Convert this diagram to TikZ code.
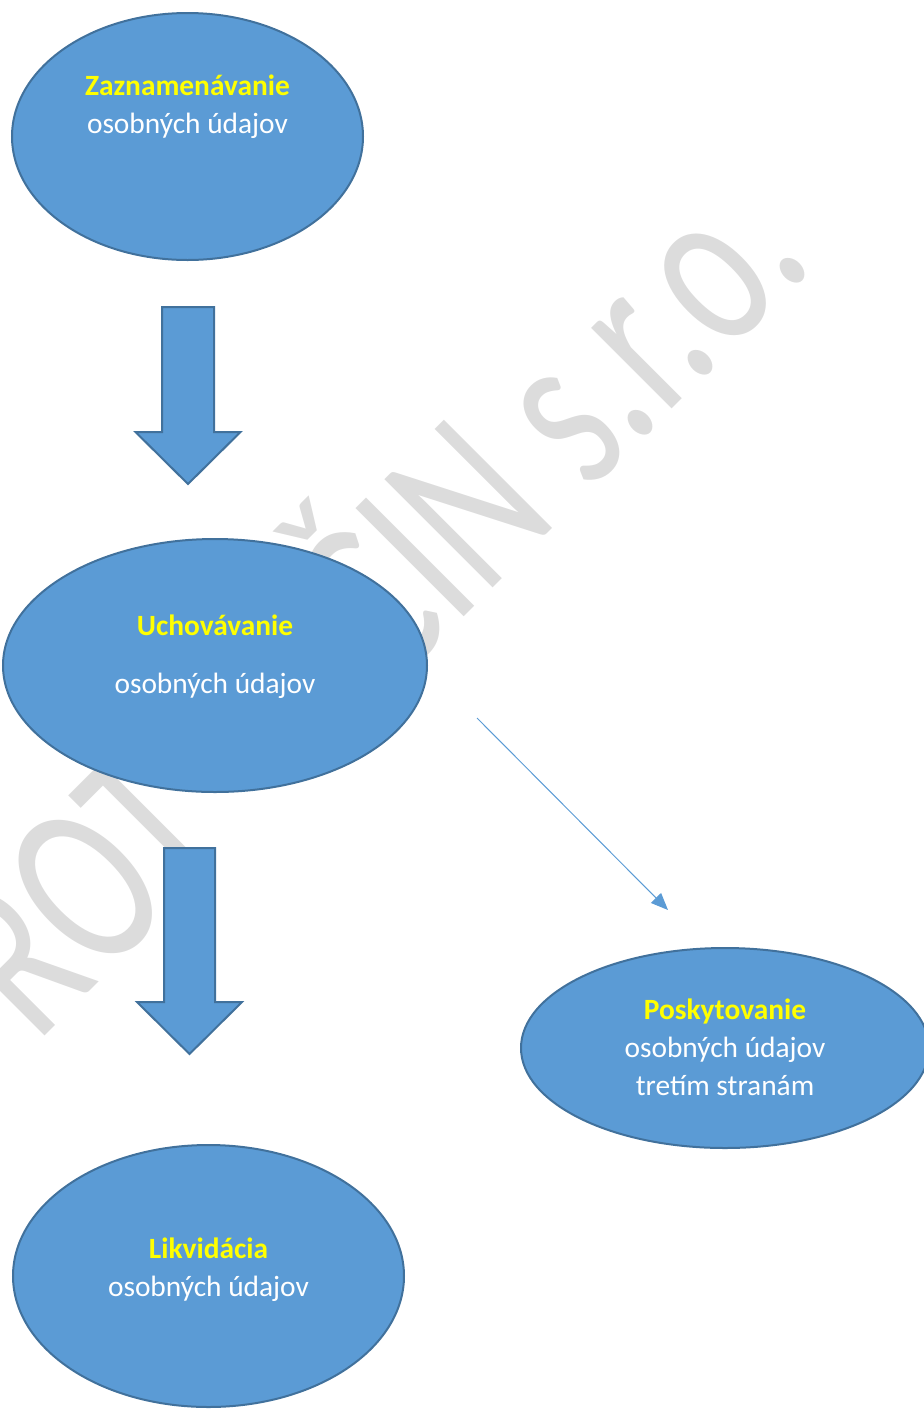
\documentclass[tikz,border=0pt]{standalone}
\usepackage{fontspec}
\setmainfont{Carlito}
\usetikzlibrary{shapes.geometric,arrows.meta}
\definecolor{stageblue}{HTML}{5B9BD5}
\definecolor{stageline}{HTML}{41719C}
\definecolor{titleyellow}{HTML}{FFFF00}
\definecolor{markgray}{HTML}{DCDCDC}

\begin{document}
\begin{tikzpicture}[x=0.5pt,y=-0.5pt,
   stage/.style={ellipse,draw=stageline,fill=stageblue,line width=1pt,inner sep=0pt},
   stagetext/.style={align=center,text=white,anchor=base,inner sep=0pt,
      font=\fontsize{14.7}{19}\selectfont},
   blockarrow/.style={draw=stageline,fill=stageblue,line width=1pt,line join=miter},
   thinarrow/.style={draw=stageblue,line width=0.5pt,-{Triangle[length=8.5pt,width=7pt]}},
   watermark/.style={text=markgray,inner sep=0pt,font=\fontsize{84}{84}\selectfont}]
\useasboundingbox (0,0) rectangle (924,1409);
% watermark, behind the shapes
\begin{scope}[shift={(817,264)},rotate=45,yscale=1.42]
\node[watermark,transform shape,anchor=base east] (mark) at (0,0)
   {PROT\hspace{1.33em}ČIN s.r.o.};
\end{scope}
% the four stages
\node[stage,minimum width=175.5pt,minimum height=123.5pt] (zazn) at (187.5,136.5) {};
\node[stage,minimum width=212pt,minimum height=126.5pt] (uchov) at (215,665.5) {};
\node[stage,minimum width=195.5pt,minimum height=131pt] (likv) at (208.5,1276) {};
\node[stage,minimum width=204pt,minimum height=100pt] (posk) at (725,1048) {};
\node[stagetext] (zazntext) at (187.5,133)
   {\textcolor{titleyellow}{\textbf{Zaznamenávanie}}\\osobných údajov};
\node[stagetext] (uchovtext) at (215,693)
   {\textcolor{titleyellow}{\textbf{Uchovávanie}}\\[10pt]osobných údajov};
\node[stagetext] (likvtext) at (208.5,1296)
   {\textcolor{titleyellow}{\textbf{Likvidácia}}\\osobných údajov};
\node[stagetext] (posktext) at (725,1095)
   {\textcolor{titleyellow}{\textbf{Poskytovanie}}\\osobných údajov\\tretím stranám};
% block arrows
\coordinate (tipa) at (188,484);
\coordinate (tipb) at (189.5,1054);
\draw[blockarrow] (tipa) -- ++(52.5,-52) -- ++(-26.5,0) -- ++(0,-125) -- ++(-52,0)
   -- ++(0,125) -- ++(-26.5,0) -- cycle;
\draw[blockarrow] (tipb) -- ++(52.5,-52) -- ++(-27,0) -- ++(0,-154) -- ++(-51,0)
   -- ++(0,154) -- ++(-27,0) -- cycle;
% thin arrow to third parties
\coordinate (givefrom) at (477,718);
\coordinate (giveto) at (668,910);
\draw[thinarrow] (givefrom) -- (giveto);
\end{tikzpicture}
\end{document}
